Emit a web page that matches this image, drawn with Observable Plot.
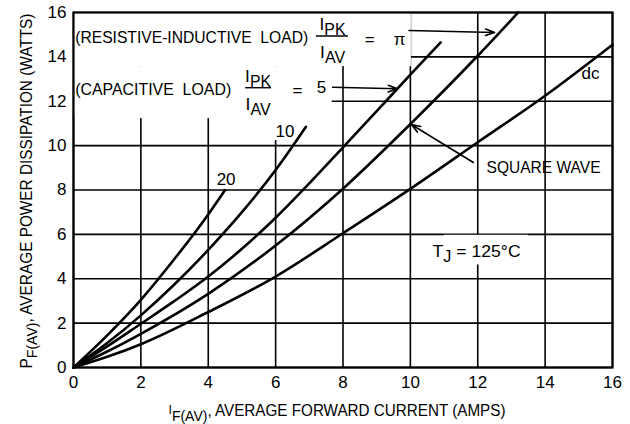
<!DOCTYPE html>
<html>
<head>
<meta charset="utf-8">
<script src="https://cdn.jsdelivr.net/npm/d3@7"></script>
<script src="https://cdn.jsdelivr.net/npm/@observablehq/plot@0.6"></script>
<style>
  html, body { margin: 0; padding: 0; background: #fff; }
  #chart svg { display: block; }
</style>
</head>
<body>
<div id="chart"></div>
<script>
// ---- data ----
const xTicks = [0, 2, 4, 6, 8, 10, 12, 14, 16];
const yTicks = [0, 2, 4, 6, 8, 10, 12, 14, 16];

// Capacitive load Ipk/Iav = 20
const iF20 = [0, 1, 2, 3, 4, 4.5];
const p20  = [0, 1.45, 3.05, 4.9, 6.9, 8.0];
// Capacitive load Ipk/Iav = 10
const iF10 = [0, 1, 2, 3, 4, 5, 6, 6.9];
const p10  = [0, 1.1, 2.35, 3.75, 5.3, 7.0, 8.9, 10.85];
// Capacitive load Ipk/Iav = 5
const iF5 = [0, 1, 2, 3, 4, 5, 6, 7, 8, 9, 10, 10.9];
const p5  = [0, 0.95, 1.97, 3.0, 4.1, 5.35, 6.75, 8.3, 9.92, 11.55, 13.2, 14.65];
// Resistive-inductive Ipk/Iav = pi / square wave
const iFpi = [0, 1, 2, 4, 6, 8, 10, 12, 13.2];
const ppi  = [0, 0.72, 1.52, 3.32, 5.5, 8.06, 10.97, 14.05, 16];
// dc
const iFdc = [0, 1, 2, 4, 6, 8, 10, 12, 14, 16];
const pdc  = [0, 0.48, 1.05, 2.5, 4.1, 6.05, 8.05, 10.15, 12.25, 14.55];

const seriesNames = ["20", "10", "5", "pi", "dc"];
const seriesX = [iF20, iF10, iF5, iFpi, iFdc];
const seriesY = [p20, p10, p5, ppi, pdc];

// annotation texts
const annoText = [
  "(RESISTIVE-INDUCTIVE\u00a0\u00a0LOAD)", "I_{PK}", "I_{AV}", "=", "π",
  "(CAPACITIVE\u00a0\u00a0LOAD)", "I_{PK}", "I_{AV}", "=", "5",
  "10", "20", "dc", "SQUARE WAVE", "T_{J}\u00a0=\u00a0125°C"
];
const xTitle = "^{I}_{F(AV)}, AVERAGE FORWARD CURRENT (AMPS)";
const yTitle = "P_{F(AV)}, AVERAGE POWER DISSIPATION (WATTS)";

// ---- layout (positions in data units, kept apart from the data) ----
const annoX = [0.05, 7.69, 7.69, 8.79, 9.68, 0.05, 5.48, 5.48, 6.65, 7.36, 6.28, 4.53, 15.35, 12.26, 10.66];
const annoY = [14.87, 15.45, 14.18, 14.79, 14.8, 12.54, 13.12, 11.85, 12.46, 12.64, 10.64, 8.47, 13.23, 8.99, 5.23];
const annoAnchor = ["start", "middle", "middle", "middle", "middle", "start", "middle", "middle", "middle", "middle", "middle", "middle", "middle", "start", "start"];
const annoWidth = [233, 28, 25, 0, 0, 156, 26, 25, 0, 0, 0, 0, 0, 114, 88];
const xTitleWidth = 337, yTitleWidth = 355;

const barX1 = [7.21, 5.11], barX2 = [8.16, 5.88], barY = [14.94, 12.61];
const arrX1 = [9.96, 7.69, 11.87], arrY1 = [15.19, 12.63, 9.24];
const arrX2 = [12.5, 9.61, 10.03], arrY2 = [15.1, 12.56, 10.95];
const boxX1 = [0, 0, 5.85, 11.0], boxX2 = [10.03, 7.68, 6.6, 13.5];
const boxY1 = [13.56, 11.22, 10.23, 4.62], boxY2 = [16, 13.56, 11.22, 5.96];

// ---- tables ----
const curves = seriesNames.flatMap((name, k) =>
  seriesX[k].map((x, j) => ({curve: name, i: x, p: seriesY[k][j]})));
const annos = annoText.map((t, k) => ({t, x: annoX[k], y: annoY[k], a: annoAnchor[k]}));
const bars = barX1.map((x1, k) => ({x1, x2: barX2[k], y: barY[k]}));
const arrows = arrX1.map((x1, k) => ({x1, y1: arrY1[k], x2: arrX2[k], y2: arrY2[k]}));
const boxes = boxX1.map((x1, k) => ({x1, x2: boxX2[k], y1: boxY1[k], y2: boxY2[k]}));

const widthByText = new Map(annoText.map((t, k) => [t, annoWidth[k]]));
widthByText.set(xTitle, xTitleWidth);
widthByText.set(yTitle, yTitleWidth);

const FONT = "'Liberation Sans', Arial, sans-serif";

const chart = Plot.plot({
  width: 630,
  height: 424,
  marginLeft: 73,
  marginRight: 18,
  marginTop: 12,
  marginBottom: 57,
  style: {fontFamily: FONT, fontSize: "17px", color: "black", background: "white"},
  x: {domain: [0, 16], ticks: xTicks, tickSize: 0, tickPadding: 8, label: null, tickFormat: d => String(d)},
  y: {domain: [0, 16], ticks: yTicks, tickSize: 0, tickPadding: 7, label: null, tickFormat: d => String(d)},
  marks: [
    Plot.ruleX(xTicks, {x: d => d, stroke: "black", strokeWidth: 1.6}),
    Plot.ruleY(yTicks, {y: d => d, stroke: "black", strokeWidth: 1.6}),
    Plot.rect(boxes, {x1: "x1", x2: "x2", y1: "y1", y2: "y2", fill: "white"}),
    Plot.frame({stroke: "black", strokeWidth: 2.2}),
    Plot.line(curves, {x: "i", y: "p", z: "curve", curve: "monotone-x", stroke: "black", strokeWidth: 2.6}),
    Plot.ruleY(bars, {x1: "x1", x2: "x2", y: "y", stroke: "black", strokeWidth: 1.4}),
    Plot.arrow(arrows, {x1: "x1", y1: "y1", x2: "x2", y2: "y2", stroke: "black", strokeWidth: 1.6, headLength: 9, headAngle: 40}),
    Plot.text(annos, {filter: d => d.a === "start", x: "x", y: "y", text: "t", textAnchor: "start", lineAnchor: "middle", fontSize: 17, fill: "black"}),
    Plot.text(annos, {filter: d => d.a === "middle", x: "x", y: "y", text: "t", textAnchor: "middle", lineAnchor: "middle", fontSize: 17, fill: "black"}),
    Plot.text([yTitle], {text: d => d, frameAnchor: "bottom-left", rotate: -90, textAnchor: "start", dx: -47, dy: 1, lineAnchor: "middle", fontSize: 16.5, fill: "black"}),
    Plot.text([xTitle], {text: d => d, frameAnchor: "bottom-left", textAnchor: "start", dx: 95, dy: 43, lineAnchor: "middle", fontSize: 16.5, fill: "black"})
  ]
});

// rich text: _{...} lowered subscript, ^{...} small raised; fit widths like a condensed face
function richify(svg) {
  d3.select(svg).selectAll("text").each(function() {
    const s = this.textContent;
    const w = widthByText.get(s);
    if (/[_^]\{/.test(s)) {
      const re = /([_^])\{([^}]*)\}|([^_^]+)/g;
      const parts = [];
      let m;
      while ((m = re.exec(s))) {
        if (m[1]) parts.push({type: m[1], text: m[2]});
        else parts.push({type: "", text: m[3]});
      }
      this.textContent = "";
      let cur = 0;
      for (const p of parts) {
        const shift = p.type === "_" ? 5 : p.type === "^" ? -2 : 0;
        const ts = d3.select(this).append("tspan").text(p.text).attr("dy", (shift - cur) + "px");
        if (p.type === "^") ts.attr("font-size", "80%");
        if (p.type === "_") ts.attr("font-size", "92%");
        cur = shift;
      }
    }
    if (w) {
      this.setAttribute("textLength", w);
      this.setAttribute("lengthAdjust", "spacingAndGlyphs");
    }
  });
}
richify(chart);
document.getElementById("chart").appendChild(chart);
</script>
</body>
</html>
